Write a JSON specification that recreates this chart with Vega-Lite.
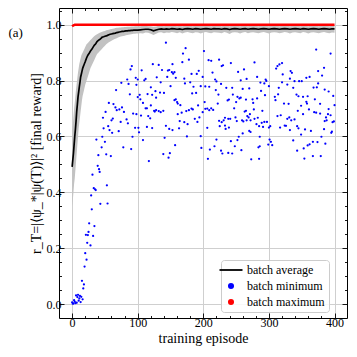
{
  "$schema": "https://vega.github.io/schema/vega-lite/v6.json",
  "width": 288,
  "height": 310,
  "autosize": {"type": "none"},
  "padding": {"left": 59, "top": 8, "right": 10, "bottom": 39},
  "background": "white",
  "config": {
    "view": {"stroke": null},
    "axis": {
      "domainColor": "#000000",
      "domainWidth": 1,
      "tickColor": "#000000",
      "tickWidth": 0.9,
      "labelFont": "Liberation Serif",
      "labelFontSize": 12,
      "labelColor": "#000000",
      "titleFont": "Liberation Serif",
      "titleFontSize": 14,
      "titleFontWeight": "normal",
      "titleColor": "#000000",
      "gridColor": "#cfcfcf",
      "gridWidth": 1,
      "gridOpacity": 1
    }
  },
  "datasets": {
    "avg": [
      {"e": 0, "a": 0.491, "lo": 0.35, "hi": 0.62, "mx": 0.994},
      {"e": 1, "a": 0.515, "lo": 0.37, "hi": 0.64, "mx": 0.996},
      {"e": 2, "a": 0.539, "lo": 0.4, "hi": 0.67, "mx": 0.998},
      {"e": 3, "a": 0.57, "lo": 0.43, "hi": 0.7, "mx": 0.999},
      {"e": 4, "a": 0.6, "lo": 0.45, "hi": 0.72, "mx": 1.0},
      {"e": 5, "a": 0.625, "lo": 0.48, "hi": 0.745, "mx": 1.0},
      {"e": 6, "a": 0.655, "lo": 0.51, "hi": 0.77, "mx": 1.0},
      {"e": 7, "a": 0.69, "lo": 0.54, "hi": 0.79, "mx": 1.0},
      {"e": 8, "a": 0.715, "lo": 0.57, "hi": 0.81, "mx": 1.0},
      {"e": 9, "a": 0.742, "lo": 0.6, "hi": 0.83, "mx": 1.0},
      {"e": 10, "a": 0.76, "lo": 0.63, "hi": 0.845, "mx": 1.0},
      {"e": 11, "a": 0.778, "lo": 0.65, "hi": 0.86, "mx": 1.0},
      {"e": 12, "a": 0.795, "lo": 0.67, "hi": 0.87, "mx": 1.0},
      {"e": 13, "a": 0.813, "lo": 0.69, "hi": 0.88, "mx": 1.0},
      {"e": 14, "a": 0.823, "lo": 0.71, "hi": 0.89, "mx": 1.0},
      {"e": 15, "a": 0.833, "lo": 0.73, "hi": 0.895, "mx": 1.0},
      {"e": 16, "a": 0.843, "lo": 0.745, "hi": 0.9, "mx": 1.0},
      {"e": 17, "a": 0.85, "lo": 0.755, "hi": 0.905, "mx": 1.0},
      {"e": 18, "a": 0.856, "lo": 0.765, "hi": 0.91, "mx": 1.0},
      {"e": 19, "a": 0.862, "lo": 0.775, "hi": 0.915, "mx": 1.0},
      {"e": 20, "a": 0.868, "lo": 0.785, "hi": 0.92, "mx": 1.0},
      {"e": 22, "a": 0.881, "lo": 0.8, "hi": 0.93, "mx": 1.0},
      {"e": 24, "a": 0.891, "lo": 0.815, "hi": 0.935, "mx": 1.0},
      {"e": 26, "a": 0.898, "lo": 0.83, "hi": 0.94, "mx": 1.0},
      {"e": 28, "a": 0.906, "lo": 0.845, "hi": 0.945, "mx": 1.0},
      {"e": 30, "a": 0.912, "lo": 0.855, "hi": 0.95, "mx": 1.0},
      {"e": 32, "a": 0.92, "lo": 0.865, "hi": 0.955, "mx": 1.0},
      {"e": 34, "a": 0.927, "lo": 0.875, "hi": 0.96, "mx": 1.0},
      {"e": 36, "a": 0.932, "lo": 0.885, "hi": 0.963, "mx": 1.0},
      {"e": 38, "a": 0.94, "lo": 0.895, "hi": 0.966, "mx": 1.0},
      {"e": 40, "a": 0.944, "lo": 0.9, "hi": 0.969, "mx": 1.0},
      {"e": 42, "a": 0.947, "lo": 0.905, "hi": 0.971, "mx": 1.0},
      {"e": 44, "a": 0.951, "lo": 0.91, "hi": 0.973, "mx": 1.0},
      {"e": 46, "a": 0.956, "lo": 0.915, "hi": 0.975, "mx": 1.0},
      {"e": 48, "a": 0.957, "lo": 0.92, "hi": 0.977, "mx": 1.0},
      {"e": 50, "a": 0.959, "lo": 0.925, "hi": 0.978, "mx": 1.0},
      {"e": 52, "a": 0.96, "lo": 0.93, "hi": 0.98, "mx": 1.0},
      {"e": 54, "a": 0.962, "lo": 0.934, "hi": 0.981, "mx": 1.0},
      {"e": 56, "a": 0.964, "lo": 0.937, "hi": 0.982, "mx": 1.0},
      {"e": 58, "a": 0.966, "lo": 0.94, "hi": 0.984, "mx": 1.0},
      {"e": 60, "a": 0.967, "lo": 0.943, "hi": 0.985, "mx": 1.0},
      {"e": 62, "a": 0.968, "lo": 0.945, "hi": 0.986, "mx": 1.0},
      {"e": 64, "a": 0.969, "lo": 0.948, "hi": 0.987, "mx": 1.0},
      {"e": 66, "a": 0.97, "lo": 0.95, "hi": 0.988, "mx": 1.0},
      {"e": 68, "a": 0.972, "lo": 0.952, "hi": 0.989, "mx": 1.0},
      {"e": 70, "a": 0.973, "lo": 0.954, "hi": 0.989, "mx": 1.0},
      {"e": 72, "a": 0.974, "lo": 0.956, "hi": 0.99, "mx": 1.0},
      {"e": 74, "a": 0.975, "lo": 0.958, "hi": 0.99, "mx": 1.0},
      {"e": 76, "a": 0.976, "lo": 0.959, "hi": 0.991, "mx": 1.0},
      {"e": 78, "a": 0.976, "lo": 0.96, "hi": 0.991, "mx": 1.0},
      {"e": 80, "a": 0.977, "lo": 0.961, "hi": 0.992, "mx": 1.0},
      {"e": 82, "a": 0.978, "lo": 0.962, "hi": 0.992, "mx": 1.0},
      {"e": 84, "a": 0.978, "lo": 0.963, "hi": 0.993, "mx": 1.0},
      {"e": 86, "a": 0.979, "lo": 0.964, "hi": 0.993, "mx": 1.0},
      {"e": 88, "a": 0.979, "lo": 0.965, "hi": 0.993, "mx": 1.0},
      {"e": 90, "a": 0.98, "lo": 0.966, "hi": 0.994, "mx": 1.0},
      {"e": 92, "a": 0.98, "lo": 0.967, "hi": 0.994, "mx": 1.0},
      {"e": 94, "a": 0.981, "lo": 0.968, "hi": 0.994, "mx": 1.0},
      {"e": 96, "a": 0.981, "lo": 0.968, "hi": 0.995, "mx": 1.0},
      {"e": 98, "a": 0.981, "lo": 0.969, "hi": 0.995, "mx": 1.0},
      {"e": 100, "a": 0.981, "lo": 0.969, "hi": 0.995, "mx": 1.0},
      {"e": 104, "a": 0.982, "lo": 0.97, "hi": 0.995, "mx": 1.0},
      {"e": 108, "a": 0.983, "lo": 0.969, "hi": 0.996, "mx": 1.0},
      {"e": 112, "a": 0.984, "lo": 0.972, "hi": 0.996, "mx": 1.0},
      {"e": 116, "a": 0.984, "lo": 0.971, "hi": 0.995, "mx": 1.0},
      {"e": 120, "a": 0.982, "lo": 0.968, "hi": 0.995, "mx": 1.0},
      {"e": 124, "a": 0.978, "lo": 0.963, "hi": 0.993, "mx": 1.0},
      {"e": 128, "a": 0.981, "lo": 0.968, "hi": 0.994, "mx": 1.0},
      {"e": 132, "a": 0.984, "lo": 0.972, "hi": 0.996, "mx": 1.0},
      {"e": 136, "a": 0.985, "lo": 0.973, "hi": 0.996, "mx": 1.0},
      {"e": 140, "a": 0.984, "lo": 0.97, "hi": 0.995, "mx": 1.0},
      {"e": 144, "a": 0.985, "lo": 0.972, "hi": 0.996, "mx": 1.0},
      {"e": 148, "a": 0.984, "lo": 0.971, "hi": 0.996, "mx": 1.0},
      {"e": 152, "a": 0.986, "lo": 0.974, "hi": 0.997, "mx": 1.0},
      {"e": 156, "a": 0.985, "lo": 0.972, "hi": 0.996, "mx": 1.0},
      {"e": 160, "a": 0.984, "lo": 0.97, "hi": 0.995, "mx": 1.0},
      {"e": 164, "a": 0.985, "lo": 0.973, "hi": 0.996, "mx": 1.0},
      {"e": 168, "a": 0.983, "lo": 0.969, "hi": 0.995, "mx": 1.0},
      {"e": 172, "a": 0.985, "lo": 0.972, "hi": 0.996, "mx": 1.0},
      {"e": 176, "a": 0.986, "lo": 0.974, "hi": 0.997, "mx": 1.0},
      {"e": 180, "a": 0.985, "lo": 0.971, "hi": 0.996, "mx": 1.0},
      {"e": 184, "a": 0.984, "lo": 0.97, "hi": 0.995, "mx": 1.0},
      {"e": 188, "a": 0.986, "lo": 0.973, "hi": 0.997, "mx": 1.0},
      {"e": 192, "a": 0.985, "lo": 0.972, "hi": 0.996, "mx": 1.0},
      {"e": 196, "a": 0.984, "lo": 0.969, "hi": 0.996, "mx": 1.0},
      {"e": 200, "a": 0.985, "lo": 0.972, "hi": 0.996, "mx": 1.0},
      {"e": 204, "a": 0.986, "lo": 0.974, "hi": 0.997, "mx": 1.0},
      {"e": 208, "a": 0.985, "lo": 0.971, "hi": 0.996, "mx": 1.0},
      {"e": 212, "a": 0.984, "lo": 0.97, "hi": 0.995, "mx": 1.0},
      {"e": 216, "a": 0.986, "lo": 0.973, "hi": 0.997, "mx": 1.0},
      {"e": 220, "a": 0.985, "lo": 0.972, "hi": 0.996, "mx": 1.0},
      {"e": 224, "a": 0.985, "lo": 0.971, "hi": 0.996, "mx": 1.0},
      {"e": 228, "a": 0.984, "lo": 0.97, "hi": 0.995, "mx": 1.0},
      {"e": 232, "a": 0.986, "lo": 0.974, "hi": 0.997, "mx": 1.0},
      {"e": 236, "a": 0.985, "lo": 0.971, "hi": 0.996, "mx": 1.0},
      {"e": 240, "a": 0.983, "lo": 0.967, "hi": 0.995, "mx": 1.0},
      {"e": 244, "a": 0.985, "lo": 0.972, "hi": 0.996, "mx": 1.0},
      {"e": 248, "a": 0.986, "lo": 0.973, "hi": 0.997, "mx": 1.0},
      {"e": 252, "a": 0.985, "lo": 0.972, "hi": 0.996, "mx": 1.0},
      {"e": 256, "a": 0.984, "lo": 0.969, "hi": 0.995, "mx": 1.0},
      {"e": 260, "a": 0.985, "lo": 0.972, "hi": 0.996, "mx": 1.0},
      {"e": 264, "a": 0.986, "lo": 0.974, "hi": 0.997, "mx": 1.0},
      {"e": 268, "a": 0.984, "lo": 0.97, "hi": 0.995, "mx": 1.0},
      {"e": 272, "a": 0.985, "lo": 0.972, "hi": 0.996, "mx": 1.0},
      {"e": 276, "a": 0.986, "lo": 0.973, "hi": 0.997, "mx": 1.0},
      {"e": 280, "a": 0.985, "lo": 0.971, "hi": 0.996, "mx": 1.0},
      {"e": 284, "a": 0.984, "lo": 0.97, "hi": 0.995, "mx": 1.0},
      {"e": 288, "a": 0.985, "lo": 0.972, "hi": 0.996, "mx": 1.0},
      {"e": 292, "a": 0.986, "lo": 0.974, "hi": 0.997, "mx": 1.0},
      {"e": 296, "a": 0.985, "lo": 0.971, "hi": 0.996, "mx": 1.0},
      {"e": 300, "a": 0.984, "lo": 0.969, "hi": 0.995, "mx": 1.0},
      {"e": 304, "a": 0.985, "lo": 0.972, "hi": 0.996, "mx": 1.0},
      {"e": 308, "a": 0.986, "lo": 0.973, "hi": 0.997, "mx": 1.0},
      {"e": 312, "a": 0.985, "lo": 0.972, "hi": 0.996, "mx": 1.0},
      {"e": 316, "a": 0.984, "lo": 0.97, "hi": 0.995, "mx": 1.0},
      {"e": 320, "a": 0.985, "lo": 0.971, "hi": 0.996, "mx": 1.0},
      {"e": 324, "a": 0.986, "lo": 0.974, "hi": 0.997, "mx": 1.0},
      {"e": 328, "a": 0.985, "lo": 0.972, "hi": 0.996, "mx": 1.0},
      {"e": 332, "a": 0.984, "lo": 0.969, "hi": 0.995, "mx": 1.0},
      {"e": 336, "a": 0.985, "lo": 0.972, "hi": 0.996, "mx": 1.0},
      {"e": 340, "a": 0.986, "lo": 0.973, "hi": 0.997, "mx": 1.0},
      {"e": 344, "a": 0.985, "lo": 0.971, "hi": 0.996, "mx": 1.0},
      {"e": 348, "a": 0.984, "lo": 0.97, "hi": 0.995, "mx": 1.0},
      {"e": 352, "a": 0.986, "lo": 0.974, "hi": 0.997, "mx": 1.0},
      {"e": 356, "a": 0.985, "lo": 0.972, "hi": 0.996, "mx": 1.0},
      {"e": 360, "a": 0.984, "lo": 0.969, "hi": 0.995, "mx": 1.0},
      {"e": 364, "a": 0.985, "lo": 0.972, "hi": 0.996, "mx": 1.0},
      {"e": 368, "a": 0.986, "lo": 0.973, "hi": 0.997, "mx": 1.0},
      {"e": 372, "a": 0.985, "lo": 0.971, "hi": 0.996, "mx": 1.0},
      {"e": 376, "a": 0.984, "lo": 0.97, "hi": 0.995, "mx": 1.0},
      {"e": 380, "a": 0.985, "lo": 0.972, "hi": 0.996, "mx": 1.0},
      {"e": 384, "a": 0.986, "lo": 0.974, "hi": 0.997, "mx": 1.0},
      {"e": 388, "a": 0.985, "lo": 0.971, "hi": 0.996, "mx": 1.0},
      {"e": 392, "a": 0.984, "lo": 0.97, "hi": 0.995, "mx": 1.0},
      {"e": 396, "a": 0.985, "lo": 0.972, "hi": 0.996, "mx": 1.0},
      {"e": 400, "a": 0.985, "lo": 0.971, "hi": 0.996, "mx": 1.0}
    ],
    "mn": [
      {"e": 0, "v": 0.006}, {"e": 1, "v": 0.001}, {"e": 2, "v": 0.002}, {"e": 3, "v": 0.014}, {"e": 4, "v": 0.009},
      {"e": 5, "v": 0.003}, {"e": 6, "v": 0.031}, {"e": 7, "v": 0.005}, {"e": 8, "v": 0.025}, {"e": 9, "v": 0.033},
      {"e": 10, "v": 0.012}, {"e": 11, "v": 0.02}, {"e": 12, "v": 0.029}, {"e": 13, "v": 0.007}, {"e": 14, "v": 0.026},
      {"e": 15, "v": 0.083}, {"e": 16, "v": 0.017}, {"e": 17, "v": 0.056}, {"e": 18, "v": 0.07}, {"e": 19, "v": 0.134},
      {"e": 20, "v": 0.182}, {"e": 21, "v": 0.248}, {"e": 22, "v": 0.159}, {"e": 23, "v": 0.219}, {"e": 24, "v": 0.247},
      {"e": 25, "v": 0.258}, {"e": 26, "v": 0.289}, {"e": 28, "v": 0.21}, {"e": 29, "v": 0.389}, {"e": 30, "v": 0.339},
      {"e": 31, "v": 0.463}, {"e": 32, "v": 0.244}, {"e": 33, "v": 0.415}, {"e": 34, "v": 0.279}, {"e": 35, "v": 0.411},
      {"e": 36, "v": 0.408}, {"e": 37, "v": 0.589}, {"e": 39, "v": 0.495}, {"e": 40, "v": 0.533}, {"e": 41, "v": 0.483},
      {"e": 42, "v": 0.473}, {"e": 43, "v": 0.359}, {"e": 45, "v": 0.561}, {"e": 46, "v": 0.599}, {"e": 47, "v": 0.667},
      {"e": 48, "v": 0.629}, {"e": 50, "v": 0.581}, {"e": 51, "v": 0.688}, {"e": 52, "v": 0.536}, {"e": 53, "v": 0.425},
      {"e": 54, "v": 0.36}, {"e": 55, "v": 0.637}, {"e": 56, "v": 0.72}, {"e": 57, "v": 0.623}, {"e": 59, "v": 0.53},
      {"e": 60, "v": 0.658}, {"e": 61, "v": 0.613}, {"e": 62, "v": 0.664}, {"e": 63, "v": 0.716}, {"e": 66, "v": 0.704},
      {"e": 67, "v": 0.766}, {"e": 68, "v": 0.694}, {"e": 71, "v": 0.619}, {"e": 72, "v": 0.697}, {"e": 74, "v": 0.652},
      {"e": 75, "v": 0.792}, {"e": 76, "v": 0.704}, {"e": 78, "v": 0.561}, {"e": 79, "v": 0.688}, {"e": 83, "v": 0.661},
      {"e": 84, "v": 0.804}, {"e": 85, "v": 0.647}, {"e": 86, "v": 0.788}, {"e": 88, "v": 0.751}, {"e": 89, "v": 0.84},
      {"e": 90, "v": 0.555}, {"e": 91, "v": 0.852}, {"e": 92, "v": 0.599}, {"e": 93, "v": 0.682},
      {"e": 96, "v": 0.631}, {"e": 97, "v": 0.81}, {"e": 98, "v": 0.785}, {"e": 98, "v": 0.68}, {"e": 100, "v": 0.804},
      {"e": 100, "v": 0.741}, {"e": 101, "v": 0.631}, {"e": 102, "v": 0.615}, {"e": 103, "v": 0.749}, {"e": 104, "v": 0.733},
      {"e": 105, "v": 0.675}, {"e": 106, "v": 0.837}, {"e": 108, "v": 0.72}, {"e": 108, "v": 0.587}, {"e": 110, "v": 0.801},
      {"e": 112, "v": 0.806}, {"e": 112, "v": 0.701}, {"e": 114, "v": 0.701}, {"e": 114, "v": 0.634}, {"e": 115, "v": 0.752},
      {"e": 116, "v": 0.673}, {"e": 117, "v": 0.512}, {"e": 119, "v": 0.665}, {"e": 120, "v": 0.776}, {"e": 120, "v": 0.711},
      {"e": 122, "v": 0.749}, {"e": 122, "v": 0.63}, {"e": 123, "v": 0.859}, {"e": 125, "v": 0.692}, {"e": 126, "v": 0.689},
      {"e": 127, "v": 0.762}, {"e": 128, "v": 0.739}, {"e": 128, "v": 0.694}, {"e": 129, "v": 0.812}, {"e": 132, "v": 0.856},
      {"e": 132, "v": 0.691}, {"e": 134, "v": 0.757}, {"e": 135, "v": 0.794}, {"e": 135, "v": 0.687}, {"e": 137, "v": 0.838},
      {"e": 139, "v": 0.692}, {"e": 139, "v": 0.537}, {"e": 140, "v": 0.756}, {"e": 141, "v": 0.595}, {"e": 143, "v": 0.936},
      {"e": 143, "v": 0.638}, {"e": 145, "v": 0.813}, {"e": 146, "v": 0.836}, {"e": 147, "v": 0.524}, {"e": 148, "v": 0.838},
      {"e": 148, "v": 0.627}, {"e": 149, "v": 0.54}, {"e": 150, "v": 0.78}, {"e": 152, "v": 0.83}, {"e": 153, "v": 0.859},
      {"e": 153, "v": 0.623}, {"e": 154, "v": 0.825}, {"e": 156, "v": 0.83}, {"e": 156, "v": 0.73}, {"e": 157, "v": 0.569},
      {"e": 158, "v": 0.81}, {"e": 158, "v": 0.733}, {"e": 160, "v": 0.723}, {"e": 161, "v": 0.718}, {"e": 161, "v": 0.68},
      {"e": 163, "v": 0.629}, {"e": 164, "v": 0.655}, {"e": 165, "v": 0.712}, {"e": 167, "v": 0.685}, {"e": 168, "v": 0.866},
      {"e": 169, "v": 0.897}, {"e": 171, "v": 0.807}, {"e": 171, "v": 0.651}, {"e": 172, "v": 0.79}, {"e": 173, "v": 0.916},
      {"e": 174, "v": 0.691}, {"e": 175, "v": 0.6}, {"e": 176, "v": 0.644}, {"e": 178, "v": 0.875}, {"e": 178, "v": 0.694},
      {"e": 180, "v": 0.794}, {"e": 182, "v": 0.824}, {"e": 182, "v": 0.7}, {"e": 183, "v": 0.754}, {"e": 184, "v": 0.697},
      {"e": 185, "v": 0.778}, {"e": 187, "v": 0.663}, {"e": 189, "v": 0.756}, {"e": 190, "v": 0.824}, {"e": 191, "v": 0.652},
      {"e": 192, "v": 0.711}, {"e": 193, "v": 0.835}, {"e": 194, "v": 0.668}, {"e": 196, "v": 0.78}, {"e": 196, "v": 0.601},
      {"e": 197, "v": 0.559}, {"e": 199, "v": 0.813}, {"e": 199, "v": 0.687}, {"e": 201, "v": 0.906}, {"e": 202, "v": 0.723},
      {"e": 203, "v": 0.779}, {"e": 203, "v": 0.699}, {"e": 206, "v": 0.7}, {"e": 206, "v": 0.631}, {"e": 207, "v": 0.52},
      {"e": 208, "v": 0.873}, {"e": 209, "v": 0.778}, {"e": 209, "v": 0.694}, {"e": 210, "v": 0.553}, {"e": 212, "v": 0.871},
      {"e": 212, "v": 0.701}, {"e": 214, "v": 0.829}, {"e": 215, "v": 0.695}, {"e": 217, "v": 0.565}, {"e": 218, "v": 0.804},
      {"e": 219, "v": 0.766}, {"e": 220, "v": 0.797}, {"e": 220, "v": 0.589}, {"e": 222, "v": 0.718}, {"e": 223, "v": 0.75},
      {"e": 224, "v": 0.875}, {"e": 224, "v": 0.656}, {"e": 225, "v": 0.637}, {"e": 227, "v": 0.788}, {"e": 227, "v": 0.549},
      {"e": 228, "v": 0.852}, {"e": 228, "v": 0.651}, {"e": 229, "v": 0.539}, {"e": 230, "v": 0.855}, {"e": 231, "v": 0.658},
      {"e": 233, "v": 0.667}, {"e": 233, "v": 0.639}, {"e": 234, "v": 0.627}, {"e": 235, "v": 0.774}, {"e": 237, "v": 0.729},
      {"e": 238, "v": 0.663}, {"e": 238, "v": 0.541}, {"e": 239, "v": 0.732}, {"e": 239, "v": 0.632}, {"e": 241, "v": 0.663},
      {"e": 242, "v": 0.863}, {"e": 242, "v": 0.583}, {"e": 244, "v": 0.774}, {"e": 244, "v": 0.539}, {"e": 245, "v": 0.75},
      {"e": 247, "v": 0.701}, {"e": 248, "v": 0.565}, {"e": 249, "v": 0.668}, {"e": 250, "v": 0.723}, {"e": 251, "v": 0.655},
      {"e": 252, "v": 0.742}, {"e": 252, "v": 0.587}, {"e": 253, "v": 0.831}, {"e": 254, "v": 0.599}, {"e": 255, "v": 0.736},
      {"e": 257, "v": 0.801}, {"e": 257, "v": 0.739}, {"e": 258, "v": 0.551}, {"e": 259, "v": 0.658}, {"e": 260, "v": 0.77},
      {"e": 260, "v": 0.611}, {"e": 261, "v": 0.654}, {"e": 262, "v": 0.84}, {"e": 263, "v": 0.689}, {"e": 265, "v": 0.732},
      {"e": 265, "v": 0.692}, {"e": 266, "v": 0.806}, {"e": 266, "v": 0.658}, {"e": 267, "v": 0.673}, {"e": 269, "v": 0.668},
      {"e": 270, "v": 0.772}, {"e": 270, "v": 0.62}, {"e": 271, "v": 0.68}, {"e": 272, "v": 0.658}, {"e": 272, "v": 0.616},
      {"e": 273, "v": 0.518}, {"e": 275, "v": 0.733}, {"e": 276, "v": 0.72}, {"e": 277, "v": 0.697}, {"e": 278, "v": 0.865},
      {"e": 278, "v": 0.663}, {"e": 281, "v": 0.644}, {"e": 282, "v": 0.813}, {"e": 282, "v": 0.736}, {"e": 283, "v": 0.667},
      {"e": 284, "v": 0.561}, {"e": 285, "v": 0.637}, {"e": 285, "v": 0.52}, {"e": 286, "v": 0.599}, {"e": 286, "v": 0.565},
      {"e": 287, "v": 0.793}, {"e": 288, "v": 0.763}, {"e": 289, "v": 0.649}, {"e": 290, "v": 0.692}, {"e": 291, "v": 0.634},
      {"e": 293, "v": 0.79}, {"e": 293, "v": 0.652}, {"e": 294, "v": 0.748}, {"e": 295, "v": 0.804}, {"e": 296, "v": 0.799},
      {"e": 297, "v": 0.652}, {"e": 299, "v": 0.571}, {"e": 300, "v": 0.78}, {"e": 300, "v": 0.632}, {"e": 301, "v": 0.589},
      {"e": 302, "v": 0.637}, {"e": 303, "v": 0.581}, {"e": 305, "v": 0.569},
      {"e": 309, "v": 0.742}, {"e": 310, "v": 0.73}, {"e": 311, "v": 0.843}, {"e": 313, "v": 0.852}, {"e": 313, "v": 0.673},
      {"e": 314, "v": 0.751}, {"e": 315, "v": 0.774}, {"e": 316, "v": 0.858}, {"e": 317, "v": 0.632}, {"e": 318, "v": 0.676},
      {"e": 320, "v": 0.863}, {"e": 320, "v": 0.794}, {"e": 321, "v": 0.822}, {"e": 323, "v": 0.718}, {"e": 324, "v": 0.639},
      {"e": 326, "v": 0.638}, {"e": 328, "v": 0.786}, {"e": 328, "v": 0.663}, {"e": 330, "v": 0.717}, {"e": 331, "v": 0.668},
      {"e": 332, "v": 0.807}, {"e": 332, "v": 0.623}, {"e": 333, "v": 0.834}, {"e": 334, "v": 0.658}, {"e": 335, "v": 0.828},
      {"e": 337, "v": 0.774}, {"e": 337, "v": 0.586}, {"e": 339, "v": 0.798}, {"e": 339, "v": 0.661}, {"e": 342, "v": 0.75},
      {"e": 343, "v": 0.637}, {"e": 343, "v": 0.549}, {"e": 344, "v": 0.692}, {"e": 345, "v": 0.744}, {"e": 345, "v": 0.629},
      {"e": 346, "v": 0.798}, {"e": 349, "v": 0.71}, {"e": 349, "v": 0.607}, {"e": 350, "v": 0.798}, {"e": 352, "v": 0.742},
      {"e": 352, "v": 0.68}, {"e": 353, "v": 0.557}, {"e": 354, "v": 0.521}, {"e": 355, "v": 0.625}, {"e": 357, "v": 0.81},
      {"e": 357, "v": 0.724}, {"e": 358, "v": 0.718}, {"e": 359, "v": 0.744}, {"e": 359, "v": 0.568}, {"e": 361, "v": 0.697},
      {"e": 362, "v": 0.813}, {"e": 362, "v": 0.572}, {"e": 364, "v": 0.62}, {"e": 367, "v": 0.581}, {"e": 367, "v": 0.53},
      {"e": 368, "v": 0.775}, {"e": 369, "v": 0.687}, {"e": 370, "v": 0.733}, {"e": 372, "v": 0.911}, {"e": 372, "v": 0.685},
      {"e": 373, "v": 0.776}, {"e": 374, "v": 0.58}, {"e": 375, "v": 0.834}, {"e": 375, "v": 0.79}, {"e": 378, "v": 0.717},
      {"e": 378, "v": 0.682}, {"e": 379, "v": 0.53}, {"e": 380, "v": 0.599}, {"e": 381, "v": 0.818}, {"e": 384, "v": 0.846},
      {"e": 384, "v": 0.626}, {"e": 385, "v": 0.768}, {"e": 385, "v": 0.655}, {"e": 386, "v": 0.574}, {"e": 387, "v": 0.668},
      {"e": 388, "v": 0.658}, {"e": 390, "v": 0.68}, {"e": 391, "v": 0.761}, {"e": 391, "v": 0.698}, {"e": 394, "v": 0.897},
      {"e": 394, "v": 0.676}, {"e": 395, "v": 0.613}, {"e": 396, "v": 0.617}, {"e": 397, "v": 0.651}, {"e": 398, "v": 0.745},
      {"e": 399, "v": 0.654}, {"e": 400, "v": 0.712}
    ]
  },
  "resolve": {"axis": {"x": "independent", "y": "independent"}},
  "layer": [
    {
      "data": {"name": "avg"},
      "mark": {"type": "area", "color": "#c2c2c2", "opacity": 1},
      "encoding": {
        "x": {"field": "e", "type": "quantitative",
          "scale": {"domain": [-20, 419], "nice": false, "zero": false},
          "axis": {"orient": "bottom", "values": [0, 100, 200, 300, 400], "title": "training episode",
            "grid": true, "tickSize": -5, "labelPadding": 4, "titlePadding": 3, "labelFlush": false}},
        "y": {"field": "lo", "type": "quantitative",
          "scale": {"domain": [-0.05, 1.06], "nice": false, "zero": false},
          "axis": {"orient": "left", "values": [0, 0.2, 0.4, 0.6, 0.8, 1.0], "format": ".1f",
            "title": "r_T=|⟨ψ_*|ψ(T)⟩|² [final reward]",
            "grid": true, "tickSize": -5, "labelPadding": 3, "titlePadding": 3, "labelFlush": false}},
        "y2": {"field": "hi"}
      }
    },
    {
      "data": {"name": "avg"},
      "mark": {"type": "line", "strokeWidth": 1.7, "interpolate": "linear"},
      "encoding": {
        "x": {"field": "e", "type": "quantitative",
          "scale": {"domain": [-20, 419], "nice": false, "zero": false},
          "axis": {"orient": "top", "values": [0, 100, 200, 300, 400], "title": null, "labels": false,
            "grid": false, "tickSize": -5}},
        "y": {"field": "a", "type": "quantitative",
          "scale": {"domain": [-0.05, 1.06], "nice": false, "zero": false},
          "axis": {"orient": "right", "values": [0, 0.2, 0.4, 0.6, 0.8, 1.0], "title": null, "labels": false,
            "grid": false, "tickSize": -5}},
        "color": {"datum": "batch average", "type": "nominal",
          "scale": {"domain": ["batch average", "batch minimum", "batch maximum"], "range": ["#000000", "#0000ff", "#ff0000"]},
          "legend": {
            "orient": "none", "legendX": 162, "legendY": 252, "title": null,
            "symbolSize": 529, "labelFont": "Liberation Serif", "labelFontSize": 12, "labelColor": "#000000",
            "padding": 4, "fillColor": "rgba(255,255,255,0.85)", "strokeColor": "#cccccc", "cornerRadius": 3,
            "rowPadding": 4, "labelOffset": 10,
            "encode": {"symbols": {"update": {
              "shape": {"signal": "datum.value === 'batch average' ? 'stroke' : 'circle'"},
              "size": {"signal": "datum.value === 'batch average' ? 529 : 18"},
              "stroke": {"signal": "datum.value === 'batch average' ? '#000000' : 'transparent'"},
              "fill": {"signal": "datum.value === 'batch minimum' ? '#0000ff' : (datum.value === 'batch maximum' ? '#ff0000' : 'transparent')"},
              "strokeWidth": {"value": 1.8},
              "opacity": {"value": 1},
              "fillOpacity": {"value": 1},
              "strokeOpacity": {"value": 1}
            }}}
          }}
      }
    },
    {
      "data": {"name": "mn"},
      "mark": {"type": "point", "filled": true, "size": 5, "opacity": 1, "strokeWidth": 0},
      "encoding": {
        "x": {"field": "e", "type": "quantitative",
          "scale": {"domain": [-20, 419], "nice": false, "zero": false},
          "axis": {"orient": "bottom", "values": [20, 40, 60, 80, 120, 140, 160, 180, 220, 240, 260, 280, 320, 340, 360, 380],
            "title": null, "labels": false, "grid": false, "domain": false, "tickSize": -2.5}},
        "y": {"field": "v", "type": "quantitative",
          "scale": {"domain": [-0.05, 1.06], "nice": false, "zero": false},
          "axis": {"orient": "left", "values": [0.05, 0.1, 0.15, 0.25, 0.3, 0.35, 0.45, 0.5, 0.55, 0.65, 0.7, 0.75, 0.85, 0.9, 0.95, 1.05],
            "title": null, "labels": false, "grid": false, "domain": false, "tickSize": -2.5}},
        "color": {"datum": "batch minimum", "type": "nominal"}
      }
    },
    {
      "data": {"name": "avg"},
      "mark": {"type": "line", "strokeWidth": 2.4},
      "encoding": {
        "x": {"field": "e", "type": "quantitative",
          "scale": {"domain": [-20, 419], "nice": false, "zero": false},
          "axis": {"orient": "top", "values": [20, 40, 60, 80, 120, 140, 160, 180, 220, 240, 260, 280, 320, 340, 360, 380],
            "title": null, "labels": false, "grid": false, "domain": false, "tickSize": -2.5}},
        "y": {"field": "mx", "type": "quantitative",
          "scale": {"domain": [-0.05, 1.06], "nice": false, "zero": false},
          "axis": {"orient": "right", "values": [0.05, 0.1, 0.15, 0.25, 0.3, 0.35, 0.45, 0.5, 0.55, 0.65, 0.7, 0.75, 0.85, 0.9, 0.95, 1.05],
            "title": null, "labels": false, "grid": false, "domain": false, "tickSize": -2.5}},
        "color": {"datum": "batch maximum", "type": "nominal"}
      }
    },
    {
      "data": {"values": [{"t": "(a)"}]},
      "mark": {"type": "text", "font": "Liberation Serif", "fontSize": 13, "align": "center", "baseline": "middle", "color": "#000000"},
      "encoding": {
        "x": {"datum": -86, "type": "quantitative", "axis": null},
        "y": {"datum": 0.97, "type": "quantitative", "axis": null},
        "text": {"field": "t"}
      }
    }
  ]
}
